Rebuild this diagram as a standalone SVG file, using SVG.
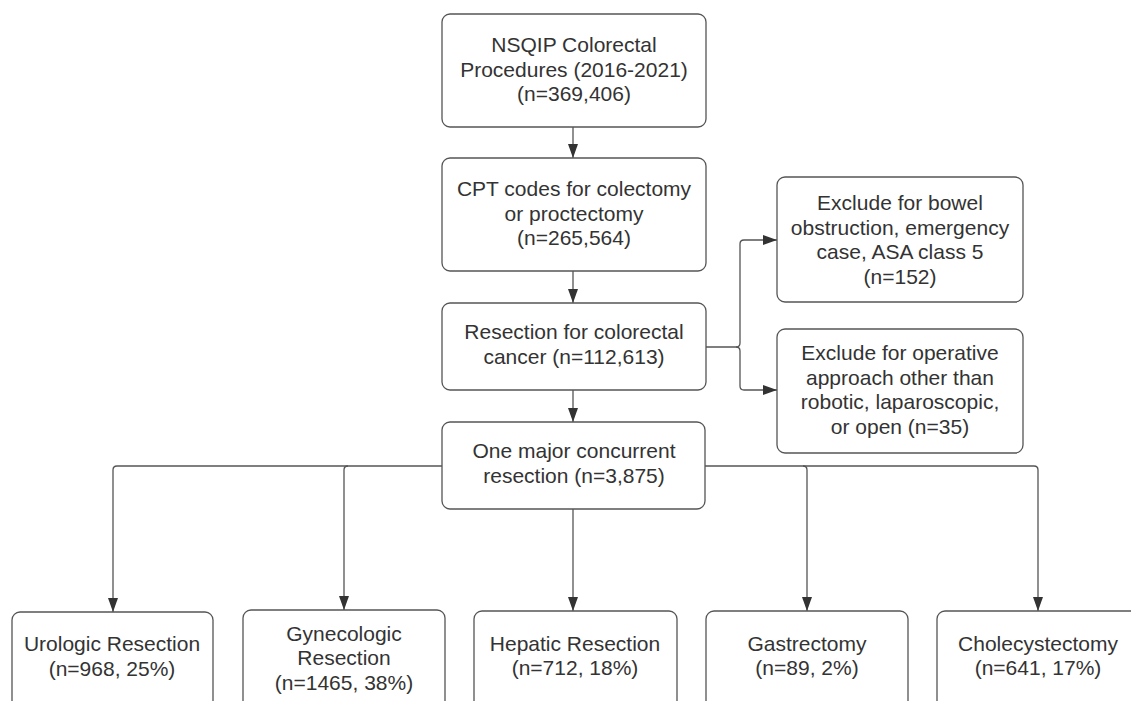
<svg xmlns="http://www.w3.org/2000/svg" width="1131" height="701" viewBox="0 0 1131 701">
<defs>
<marker id="ah" viewBox="0 0 14 10" refX="14" refY="5" markerWidth="14" markerHeight="10" markerUnits="userSpaceOnUse" orient="auto">
<path d="M0,0 L14,5 L0,10 Z" fill="#333"/>
</marker>
<style>
.box{fill:#fff;stroke:#555;stroke-width:1.3}
.t{font-family:"Liberation Sans",Arial,sans-serif;font-size:21px;fill:#333;text-anchor:middle}
.c{fill:none;stroke:#555;stroke-width:1.3}
</style>
</defs>
<rect width="1131" height="701" fill="#fff"/>
<g id="connectors">
<path class="c" d="M573,127 V158" marker-end="url(#ah)"/>
<path class="c" d="M573,271 V303" marker-end="url(#ah)"/>
<path class="c" d="M573,390 V422" marker-end="url(#ah)"/>
<path class="c" d="M706,347 H736 Q740,347 740,343 V244 Q740,240 744,240 H777" marker-end="url(#ah)"/>
<path class="c" d="M736,347 Q740,347 740,351 V386 Q740,390 744,390 H777" marker-end="url(#ah)"/>
<path class="c" d="M442,466 H117 Q113,466 113,470 V612" marker-end="url(#ah)"/>
<path class="c" d="M348,466 Q344,466 344,470 V610" marker-end="url(#ah)"/>
<path class="c" d="M573,509 V611" marker-end="url(#ah)"/>
<path class="c" d="M705,466 H1034 Q1038,466 1038,470 V611" marker-end="url(#ah)"/>
<path class="c" d="M803,466 Q807,466 807,470 V611" marker-end="url(#ah)"/>
</g>
<g id="n1">
<rect class="box" x="442" y="14" width="264" height="113" rx="8"/>
<text class="t" x="574" y="52">NSQIP Colorectal</text>
<text class="t" x="574" y="77">Procedures (2016-2021)</text>
<text class="t" x="574" y="101">(n=369,406)</text>
</g>
<g id="n2">
<rect class="box" x="442" y="158" width="264" height="113" rx="8"/>
<text class="t" x="574" y="196">CPT codes for colectomy</text>
<text class="t" x="574" y="221">or proctectomy</text>
<text class="t" x="574" y="245">(n=265,564)</text>
</g>
<g id="n3">
<rect class="box" x="442" y="303" width="264" height="87" rx="8"/>
<text class="t" x="574" y="339">Resection for colorectal</text>
<text class="t" x="574" y="364">cancer (n=112,613)</text>
</g>
<g id="n4">
<rect class="box" x="442" y="422" width="263" height="87" rx="8"/>
<text class="t" x="574" y="458">One major concurrent</text>
<text class="t" x="574" y="483">resection (n=3,875)</text>
</g>
<g id="ex1">
<rect class="box" x="777" y="177" width="246" height="125" rx="8"/>
<text class="t" x="900" y="210">Exclude for bowel</text>
<text class="t" x="900" y="235">obstruction, emergency</text>
<text class="t" x="900" y="259">case, ASA class 5</text>
<text class="t" x="900" y="284">(n=152)</text>
</g>
<g id="ex2">
<rect class="box" x="777" y="329" width="246" height="124" rx="8"/>
<text class="t" x="900" y="360">Exclude for operative</text>
<text class="t" x="900" y="385">approach other than</text>
<text class="t" x="900" y="409">robotic, laparoscopic,</text>
<text class="t" x="900" y="434">or open (n=35)</text>
</g>
<g id="b1">
<rect class="box" x="12" y="612" width="201" height="110" rx="8"/>
<text class="t" x="112" y="651">Urologic Resection</text>
<text class="t" x="112" y="676">(n=968, 25%)</text>
</g>
<g id="b2">
<rect class="box" x="243" y="610" width="202" height="112" rx="8"/>
<text class="t" x="344" y="641">Gynecologic</text>
<text class="t" x="344" y="665">Resection</text>
<text class="t" x="344" y="690">(n=1465, 38%)</text>
</g>
<g id="b3">
<rect class="box" x="474" y="611" width="203" height="111" rx="8"/>
<text class="t" x="575" y="651">Hepatic Resection</text>
<text class="t" x="575" y="675">(n=712, 18%)</text>
</g>
<g id="b4">
<rect class="box" x="706" y="611" width="202" height="111" rx="8"/>
<text class="t" x="807" y="651">Gastrectomy</text>
<text class="t" x="807" y="675">(n=89, 2%)</text>
</g>
<g id="b5">
<rect class="box" x="937" y="611" width="202" height="111" rx="8"/>
<text class="t" x="1038" y="651">Cholecystectomy</text>
<text class="t" x="1038" y="675">(n=641, 17%)</text>
</g>
</svg>
